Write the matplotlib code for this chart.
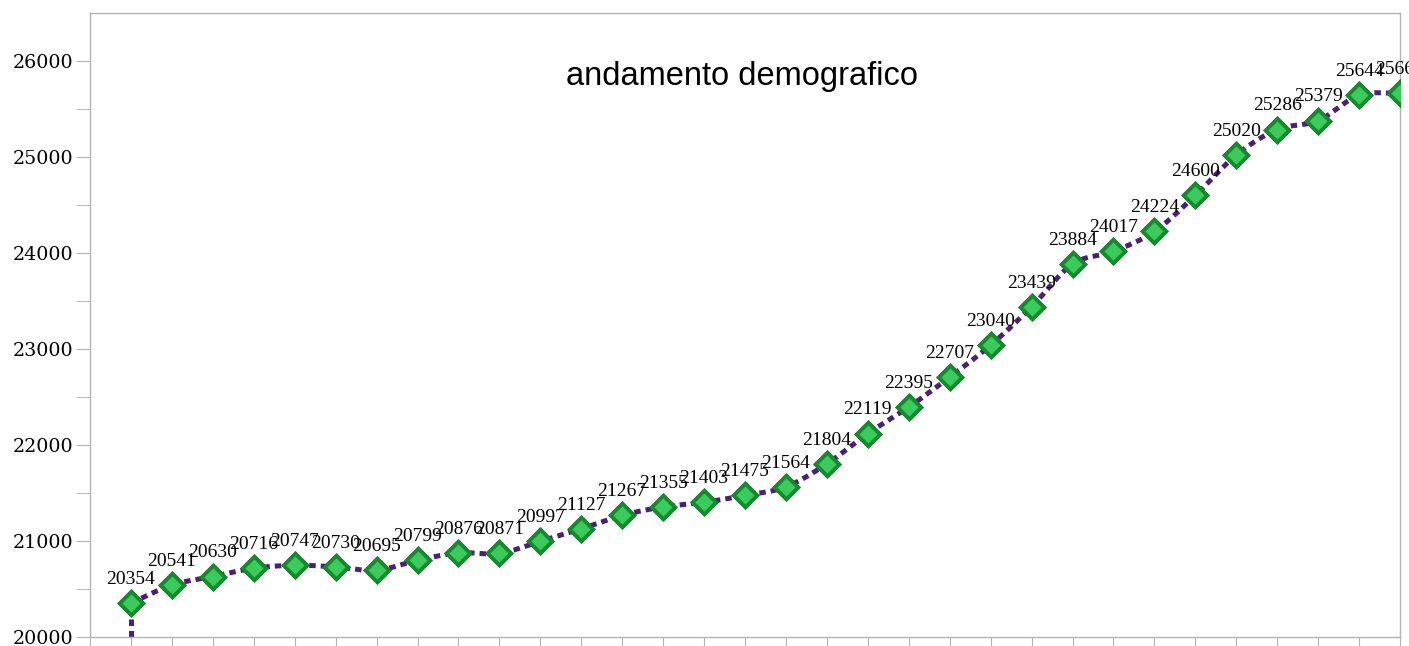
import numpy as np
import matplotlib
matplotlib.use('Agg')
import matplotlib.pyplot as plt

# popolazione per anno
valori = [20354, 20541, 20630, 20716, 20747, 20730, 20695, 20799, 20876, 20871,
          20997, 21127, 21267, 21355, 21403, 21475, 21564, 21804, 22119, 22395,
          22707, 23040, 23439, 23884, 24017, 24224, 24600, 25020, 25286, 25379,
          25644, 25664]
posizioni = list(range(1, len(valori) + 1))
titolo = 'andamento demografico'
y_ticks = [20000, 21000, 22000, 23000, 24000, 25000, 26000]


def catmull_rom(x, y, n=20):
    # curva liscia tipo "linea smussata" di Excel
    x = np.asarray(x, float)
    y = np.asarray(y, float)
    px = np.concatenate([[2 * x[0] - x[1]], x, [2 * x[-1] - x[-2]]])
    py = np.concatenate([[2 * y[0] - y[1]], y, [2 * y[-1] - y[-2]]])
    xs, ys = [], []
    t = np.linspace(0, 1, n, endpoint=False)
    for i in range(1, len(px) - 2):
        for p, out in ((px, xs), (py, ys)):
            p0, p1, p2, p3 = p[i - 1], p[i], p[i + 1], p[i + 2]
            out.extend(0.5 * ((2 * p1) + (-p0 + p2) * t
                              + (2 * p0 - 5 * p1 + 4 * p2 - p3) * t ** 2
                              + (-p0 + 3 * p1 - 3 * p2 + p3) * t ** 3))
    xs.append(x[-1])
    ys.append(y[-1])
    return np.array(xs), np.array(ys)


fig = plt.figure(figsize=(14.09, 6.46), dpi=100)
ax = fig.add_axes([90 / 1409, 9 / 646, 1310 / 1409, 624 / 646])

ymin, ymax = 20000, 26500
ax.set_xlim(0, len(valori))
ax.set_ylim(ymin, ymax)

viola = '#4a2170'
sx, sy = catmull_rom(posizioni, valori)
ax.plot(sx, sy, color=viola, lw=3.6, ls=(0, (1.3, 1.0)), dash_capstyle='butt', zorder=2)
ax.vlines(posizioni[0], ymin, valori[0], color=viola, lw=3.6, linestyles=[(0, (1.3, 1.0))], zorder=2)

# rombi verdi (due strati per l'effetto 3D)
ax.plot(posizioni, valori, 'D', ms=14.5, mfc='#178a2f', mec='#127a28', mew=0.6, ls='none', zorder=3)
ax.plot(posizioni, valori, 'D', ms=9.5, mfc='#3acb5c', mec='none', ls='none', zorder=4)

for xx, v in zip(posizioni, valori):
    ax.annotate(str(v), (xx, v), xytext=(0, 11), textcoords='offset points',
                ha='center', va='bottom', fontsize=14, family='Liberation Serif',
                color='black', zorder=5, annotation_clip=False)

ax.text(0.498, 0.898, titolo, transform=ax.transAxes, ha='center', va='center',
        fontsize=23.5, family='Liberation Sans')

grigio = '#b3b3b3'
for s in ax.spines.values():
    s.set_color(grigio)
    s.set_linewidth(1.0)

ax.set_yticks(y_ticks)
ax.set_yticks(np.arange(20500, 26500, 1000), minor=True)
ax.set_xticks(range(0, len(valori) + 1))
ax.set_xticklabels([])
ax.tick_params(axis='y', which='both', direction='out', length=10, color=grigio,
               labelsize=13.7, pad=2)
ax.tick_params(axis='x', direction='out', length=9, color=grigio)
for lab in ax.get_yticklabels():
    lab.set_family('DejaVu Serif')

fig.savefig('out.png', dpi=100)
